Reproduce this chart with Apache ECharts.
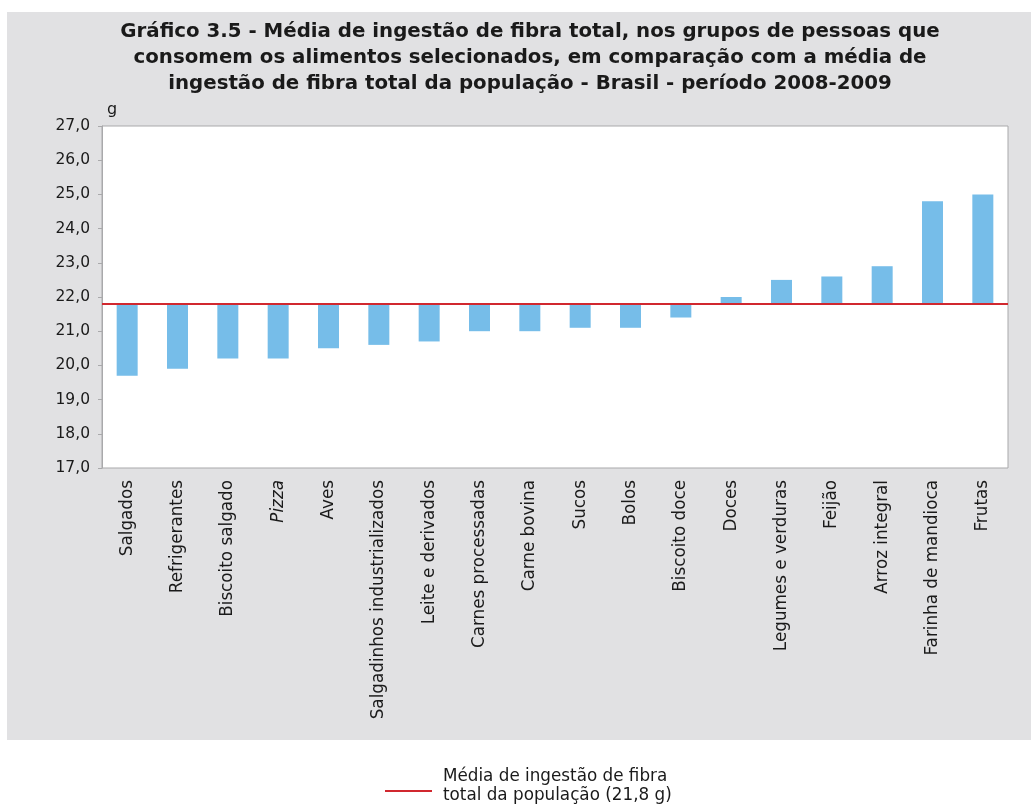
<!DOCTYPE html>
<html>
<head>
<meta charset="utf-8">
<script src="https://cdn.jsdelivr.net/npm/echarts@6/dist/echarts.min.js"></script>
<style>
  html, body { margin: 0; padding: 0; background: #fff; }
  #chart { width: 1031px; height: 807px; }
</style>
</head>
<body>
<div id="chart"></div>
<script>
// dados
var categories = ['Salgados', 'Refrigerantes', 'Biscoito salgado', 'Pizza', 'Aves',
  'Salgadinhos industrializados', 'Leite e derivados', 'Carnes processadas', 'Carne bovina',
  'Sucos', 'Bolos', 'Biscoito doce', 'Doces', 'Legumes e verduras', 'Feijão',
  'Arroz integral', 'Farinha de mandioca', 'Frutas'];
var values = [19.7, 19.9, 20.2, 20.2, 20.5, 20.6, 20.7, 21.0, 21.0,
  21.1, 21.1, 21.4, 22.0, 22.5, 22.6, 22.9, 24.8, 25.0];
var mediaPopulacao = 21.8;
var yTicks = [17, 27, 1]; // min, max, intervalo

// barras partem da média: base invisível + diferença visível
var baseVals = values.map(function (v) { return Math.min(v, mediaPopulacao); });
var diffVals = values.map(function (v) { return +Math.abs(v - mediaPopulacao).toFixed(2); });

var font = '"DejaVu Sans", Verdana, sans-serif';
var txt = '#1a1a1a';
var chart = echarts.init(document.getElementById('chart'));

chart.setOption({
  animation: false,
  textStyle: { fontFamily: font },
  graphic: [
    {
      type: 'rect', z: -10, silent: true,
      shape: { x: 7, y: 12, width: 1024, height: 728 },
      style: { fill: '#e1e1e3' }
    },
    {
      type: 'text', silent: true,
      style: {
        x: 530, y: 19,
        text: 'Gráfico 3.5 - Média de ingestão de fibra total, nos grupos de pessoas que\n' +
              'consomem os alimentos selecionados, em comparação com a média de\n' +
              'ingestão de fibra total da população - Brasil - período 2008-2009',
        font: 'bold 19.8px ' + font,
        fill: txt,
        textAlign: 'center',
        lineHeight: 26
      }
    },
    {
      type: 'line', silent: true,
      shape: { x1: 385, y1: 791, x2: 432, y2: 791 },
      style: { stroke: '#d1282f', lineWidth: 2 }
    },
    {
      type: 'text', silent: true,
      style: {
        x: 443, y: 767,
        text: 'Média de ingestão de fibra\ntotal da população (21,8 g)',
        font: '16.8px ' + font,
        fill: txt,
        lineHeight: 19
      }
    }
  ],
  grid: {
    left: 102, top: 126, right: 23, bottom: 339,
    show: true, backgroundColor: '#fff', borderColor: '#a9a9ab', borderWidth: 1
  },
  xAxis: {
    type: 'category',
    data: categories,
    axisLine: { show: false },
    axisTick: { show: false },
    axisLabel: {
      interval: 0, rotate: 90, margin: 12,
      fontSize: 16.8, color: txt,
      formatter: function (v) { return v === 'Pizza' ? '{i|Pizza}' : v; },
      rich: { i: { fontStyle: 'italic', fontSize: 16.8, color: txt } }
    }
  },
  yAxis: {
    type: 'value',
    min: yTicks[0], max: yTicks[1], interval: yTicks[2],
    name: 'g',
    nameLocation: 'end',
    nameGap: 8,
    nameTextStyle: { fontSize: 16, color: txt, align: 'left', padding: [0, 0, 0, 5] },
    splitLine: { show: false },
    axisLine: { show: true, lineStyle: { color: '#a9a9ab' } },
    axisTick: { show: true, length: 4, lineStyle: { color: '#a9a9ab' } },
    axisLabel: {
      fontSize: 15.5, color: txt, margin: 12,
      formatter: function (v) { return v.toFixed(1).replace('.', ','); }
    }
  },
  series: [
    {
      type: 'bar', stack: 'fibra', silent: true,
      data: baseVals,
      barWidth: 21,
      itemStyle: { color: 'transparent' }
    },
    {
      type: 'bar', stack: 'fibra', silent: true,
      data: diffVals,
      barWidth: 21,
      itemStyle: { color: '#76bde9' },
      markLine: {
        silent: true,
        symbol: 'none',
        label: { show: false },
        lineStyle: { color: '#d1282f', width: 2, type: 'solid' },
        data: [{ yAxis: mediaPopulacao }]
      }
    }
  ]
});
</script>
</body>
</html>
